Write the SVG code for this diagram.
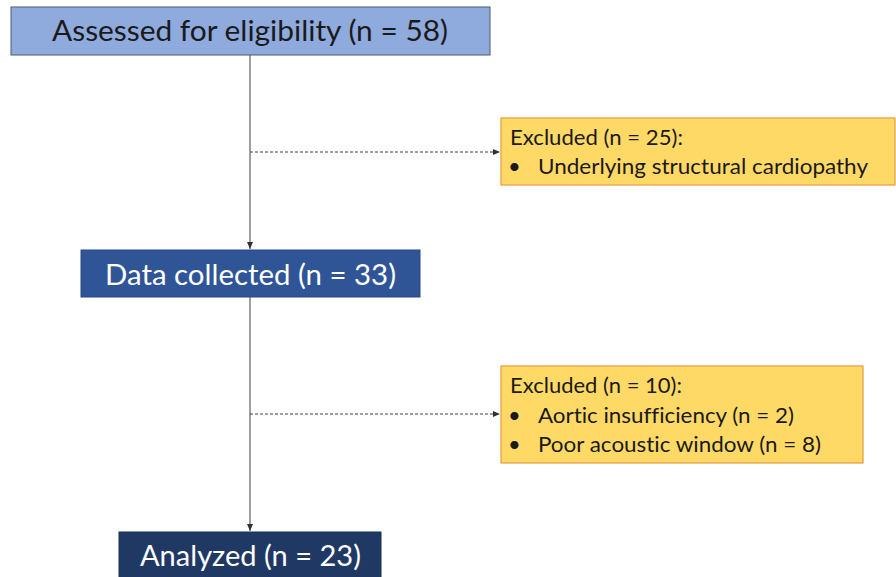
<svg xmlns="http://www.w3.org/2000/svg" width="896" height="577" viewBox="0 0 896 577">
<style>
.t{font-family:Lato,"Open Sans","Liberation Sans",sans-serif;font-variant-ligatures:none;font-feature-settings:"liga" 0,"dlig" 0}
.big{font-size:28px}
.sm{font-size:22px;fill:#1a1a1a}
.con{stroke:#404040;stroke-width:1;fill:none}
.dash{stroke-dasharray:3,2}
.ex{fill:#ffd966;stroke:#e69b3c;stroke-width:1.2}
</style>
<defs>
<marker id="ah" markerWidth="7" markerHeight="6" refX="7" refY="3" orient="auto" markerUnits="userSpaceOnUse">
<path d="M0,0 L7,3 L0,6 Z" fill="#303030"/>
</marker>
</defs>
<rect width="896" height="577" fill="#fff"/>
<g id="connectors">
<line class="con" x1="250" y1="55" x2="250" y2="249" marker-end="url(#ah)"/>
<line class="con" x1="250" y1="297" x2="250" y2="531" marker-end="url(#ah)"/>
<line class="con dash" x1="250" y1="152" x2="500" y2="152" marker-end="url(#ah)"/>
<line class="con dash" x1="250" y1="414" x2="500" y2="414" marker-end="url(#ah)"/>
</g>
<g id="assessed">
<rect x="11" y="7" width="479" height="48" fill="#8faadc" stroke="#4c5a70" stroke-width="1"/>
<text class="t big" x="52" y="41" fill="#1a1a1a" textLength="396" lengthAdjust="spacingAndGlyphs">Assessed for eligibility (n = 58)</text>
</g>
<g id="excluded1">
<rect class="ex" x="501" y="118" width="394" height="67"/>
<text class="t sm" x="510" y="145" textLength="173" lengthAdjust="spacingAndGlyphs">Excluded (n = 25):</text>
<text class="t sm" x="508" y="174">•</text>
<text class="t sm" x="538" y="174" textLength="330" lengthAdjust="spacingAndGlyphs">Underlying structural cardiopathy</text>
</g>
<g id="collected">
<rect x="81" y="250" width="339" height="47" fill="#2f5597" stroke="#2a4a80" stroke-width="1"/>
<text class="t big" x="105" y="285" fill="#fff" textLength="291" lengthAdjust="spacingAndGlyphs">Data collected (n = 33)</text>
</g>
<g id="excluded2">
<rect class="ex" x="501" y="366" width="362" height="97"/>
<text class="t sm" x="510" y="393" textLength="172" lengthAdjust="spacingAndGlyphs">Excluded (n = 10):</text>
<text class="t sm" x="508" y="423">•</text>
<text class="t sm" x="538" y="423" textLength="256" lengthAdjust="spacingAndGlyphs">Aortic insufficiency (n = 2)</text>
<text class="t sm" x="508" y="452">•</text>
<text class="t sm" x="538" y="452" textLength="283" lengthAdjust="spacingAndGlyphs">Poor acoustic window (n = 8)</text>
</g>
<g id="analyzed">
<rect x="119" y="532" width="262" height="50" fill="#1f3864" stroke="#1a2f55" stroke-width="1"/>
<text class="t big" x="140" y="566" fill="#fff" textLength="221" lengthAdjust="spacingAndGlyphs">Analyzed (n = 23)</text>
</g>
</svg>
